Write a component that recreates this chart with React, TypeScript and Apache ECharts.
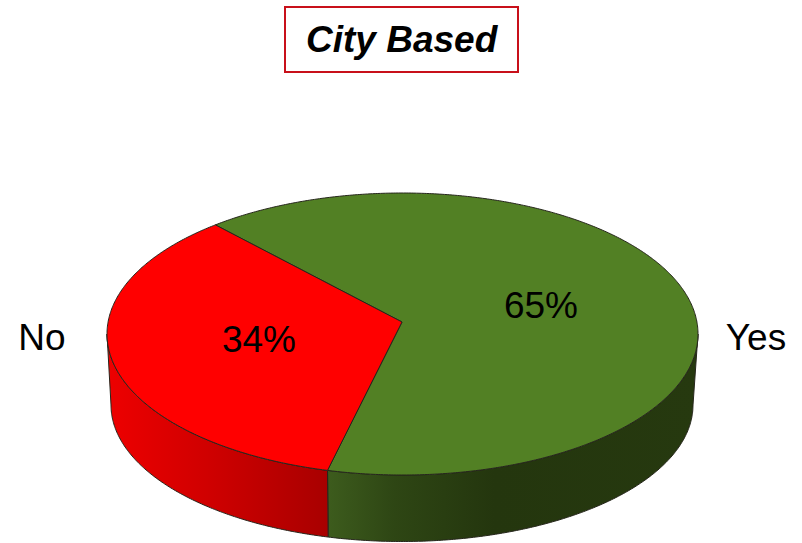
import React, { useEffect, useRef } from "react";
import * as echarts from "echarts";

const titleText = "City Based";
const categories = ["Yes", "No"];
const sliceValues = [65, 34];
const percentLabels = ["65%", "34%"];

const FONT = '"Liberation Sans", Arial, sans-serif';
const topFill = ["#528024", "#ff0000"];
const wallStops = [
  [
    [0, "#26390f"],
    [0.55, "#24360e"],
    [0.82, "#2e4614"],
    [1, "#3d5c1d"],
  ],
  [
    [0, "#ee0000"],
    [0.45, "#d00000"],
    [1, "#a80000"],
  ],
];
const APEX = [402, 322];
const TOP = { cx: 402.5, cy: 334, rx: 295.5, ry: 141 };
const BOT = { cx: 402, cy: 405, rx: 291, ry: 136.5 };
const START = -39.3;
const LABEL_POS = [
  [541, 305],
  [259, 339],
];
const NAME_POS = [
  [756, 337],
  [42, 337],
];

const rad = (d: number) => (d * Math.PI) / 180;
const pt = (e: any, t: number) => [e.cx + e.rx * Math.sin(rad(t)), e.cy - e.ry * Math.cos(rad(t))];
const arcPts = (e: any, a: number, b: number) => {
  const out: number[][] = [];
  const n = Math.max(2, Math.ceil(Math.abs(b - a) / 0.5));
  for (let i = 0; i <= n; i++) out.push(pt(e, a + ((b - a) * i) / n));
  return out;
};

function sliceRange(index: number) {
  let a = START;
  for (let i = 0; i < index; i++) a += (sliceValues[i] / 100) * 360;
  const last = index === sliceValues.length - 1;
  const b = last ? START + 360 : a + (sliceValues[index] / 100) * 360;
  return [a, b];
}

const STROKE = "#26261c";

function renderItem(params: any, api: any) {
  const i = params.dataIndex;
  void api.value(0);
  const [a, b] = sliceRange(i);
  const children: any[] = [];
  const wa = Math.max(a, 90);
  const wb = Math.min(b, 270);
  if (wb > wa) {
    const upper = arcPts(TOP, wa, wb);
    const lower = arcPts(BOT, wb, wa);
    children.push({
      type: "polygon",
      shape: { points: upper.concat(lower) },
      style: {
        fill: {
          type: "linear",
          x: 0,
          y: 0,
          x2: 1,
          y2: 0,
          colorStops:
            i === 0
              ? wallStops[0].map(([o, c]: any) => ({ offset: 1 - o, color: c })).reverse()
              : wallStops[1].map(([o, c]: any) => ({ offset: o, color: c })),
        },
        stroke: STROKE,
        lineWidth: 1,
        lineJoin: "round",
      },
    });
  }
  children.push({
    type: "polygon",
    shape: { points: [APEX].concat(arcPts(TOP, a, b)) },
    style: { fill: topFill[i], stroke: STROKE, lineWidth: 1, lineJoin: "round" },
  });
  children.push({
    type: "text",
    x: LABEL_POS[i][0],
    y: LABEL_POS[i][1],
    style: {
      text: percentLabels[i],
      fontSize: 37,
      fontFamily: FONT,
      fill: "#000",
      align: "center",
      verticalAlign: "middle",
    },
  });
  children.push({
    type: "text",
    x: NAME_POS[i][0],
    y: NAME_POS[i][1],
    style: {
      text: categories[i],
      fontSize: 37,
      fontFamily: FONT,
      fill: "#000",
      align: "center",
      verticalAlign: "middle",
    },
  });
  return { type: "group", children };
}

export default function App() {
  const ref = useRef<HTMLDivElement>(null);
  useEffect(() => {
    document.body.style.margin = "0";
    const chart = echarts.init(ref.current!, undefined, { renderer: "svg" });
    chart.setOption({
      animation: false,
      backgroundColor: "#fff",
      title: {
        text: titleText,
        left: 285,
        top: 7,
        padding: [14, 21, 14, 21],
        borderColor: "#c8101a",
        borderWidth: 2,
        textStyle: {
          fontFamily: FONT,
          fontSize: 37,
          fontWeight: "bold",
          fontStyle: "italic",
          color: "#000",
          lineHeight: 37,
        },
      },
      series: [
        {
          type: "custom",
          coordinateSystem: "none",
          renderItem,
          clip: false,
          silent: true,
          data: sliceValues.map((v, i) => ({ name: categories[i], value: [v] })),
        },
      ],
    });
    return () => chart.dispose();
  }, []);
  return <div ref={ref} style={{ position: "absolute", left: 0, top: 0, width: 802, height: 543 }} />;
}
